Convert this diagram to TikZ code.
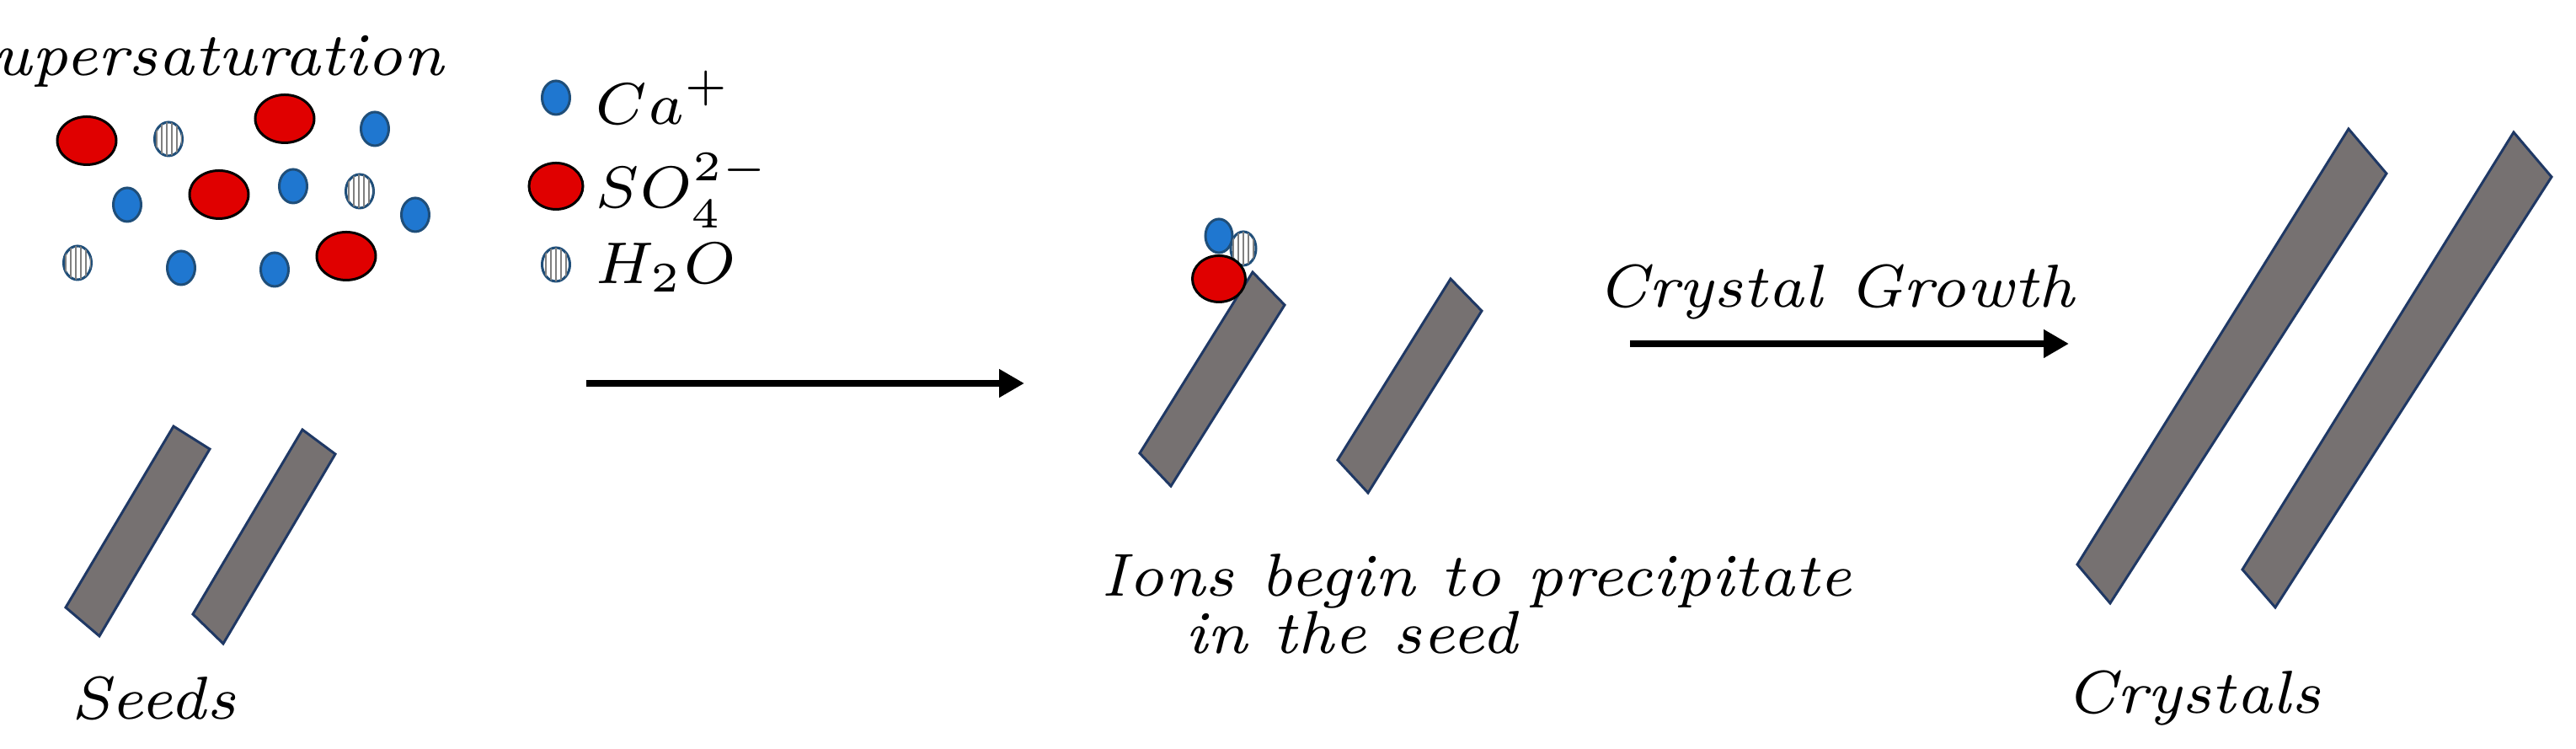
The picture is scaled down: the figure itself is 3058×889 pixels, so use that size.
\documentclass[tikz,border=0pt]{standalone}
\usetikzlibrary{shapes.geometric,patterns.meta,arrows.meta}
\definecolor{ionred}{HTML}{E00000}
\definecolor{ionblue}{HTML}{1F77D0}
\definecolor{ionedge}{HTML}{1F4E79}
\definecolor{seedgray}{HTML}{767171}
\definecolor{seededge}{HTML}{1F3864}
\tikzset{
  so4/.style={ellipse, draw=black, fill=ionred, line width=0.3pt, inner sep=0pt, minimum width=7.0pt, minimum height=5.7pt},
  ca/.style={ellipse, draw=ionedge, fill=ionblue, line width=0.3pt, inner sep=0pt, minimum width=3.3pt, minimum height=4.0pt},
  water/.style={ellipse, draw=ionedge, fill=white, line width=0.3pt, inner sep=0pt, minimum width=3.3pt, minimum height=4.0pt,
    postaction={pattern={Lines[angle=90,distance=0.6pt,line width=0.15pt]}, pattern color=gray}},
  seed/.style={draw=seededge, fill=seedgray, line width=0.3pt, line join=miter},
  txt/.style={font=\fontsize{7.2}{8.6}\selectfont\itshape, inner sep=0.5pt},
  stage arrow/.style={line width=0.8pt, -{Triangle[length=3pt,width=3.2pt]}}
}
\begin{document}
\begin{tikzpicture}[x=0.1pt,y=0.1pt,yscale=-1]
  \useasboundingbox (0,0) rectangle (3058,889);
  % Supersaturation
  \node[txt] (title) at (236,71) {Supersaturation};
  \node[so4] (s1) at (103,167) {};
  \node[so4] (s2) at (338,141) {};
  \node[so4] (s3) at (260,231) {};
  \node[so4] (s4) at (411,304) {};
  \node[ca] (c1) at (445,153) {};
  \node[ca] (c2) at (151,243) {};
  \node[ca] (c3) at (348,221) {};
  \node[ca] (c4) at (493,255) {};
  \node[ca] (c5) at (215,318) {};
  \node[ca] (c6) at (326,320) {};
  \node[water] (w1) at (200,165) {};
  \node[water] (w2) at (427,227) {};
  \node[water] (w3) at (92,312) {};
  % legend
  \node[ca] (lca) at (660,116) {};
  \node[so4, minimum width=6.4pt, minimum height=5.5pt] (lso) at (660,221) {};
  \node[water] (lw) at (660,314) {};
  \node[txt, anchor=west] (tca) at (700,116) {$Ca^{+}$};
  \node[txt, anchor=west] (tso) at (700,226) {$SO_4^{2-}$};
  \node[txt, anchor=west] (tw) at (700,318) {$H_2O$};
  % seeds
  \draw[seed] (249,533) -- (206,506) -- (78,721) -- (118,755) -- cycle;
  \draw[seed] (398,539) -- (359,510) -- (229,729) -- (265,764) -- cycle;
  \node[txt] (tseeds) at (182,829) {Seeds};
  % first step
  \coordinate (a1) at (696,455);
  \coordinate (b1) at (1216,455);
  \draw[stage arrow] (a1) -- (b1);
  % precipitation
  \draw[seed] (1525,362) -- (1487,323) -- (1353,538) -- (1390,577) -- cycle;
  \draw[seed] (1759,369) -- (1722,331) -- (1588,546) -- (1624,585) -- cycle;
  \node[ca, minimum width=3.2pt, minimum height=4.0pt] (pca) at (1447,280) {};
  \node[water, minimum width=3.0pt, minimum height=4.0pt] (pw) at (1476,295) {};
  \node[so4, minimum width=6.3pt, minimum height=5.5pt] (pso) at (1447,331) {};
  \node[txt, anchor=west] (tions) at (1300,690) {Ions begin to precipitate};
  \node[txt, anchor=west] (tseed) at (1400,751) {in the seed};
  % crystal growth
  \coordinate (a2) at (1935,408);
  \coordinate (b2) at (2456,408);
  \draw[stage arrow] (a2) -- (b2);
  \node[txt] (tgrowth) at (2180,347) {Crystal Growth};
  \draw[seed] (2833,206) -- (2788,153) -- (2466,670) -- (2505,716) -- cycle;
  \draw[seed] (3029,210) -- (2984,157) -- (2662,676) -- (2701,721) -- cycle;
  \node[txt] (tcrystals) at (2604,829) {Crystals};
\end{tikzpicture}
\end{document}
